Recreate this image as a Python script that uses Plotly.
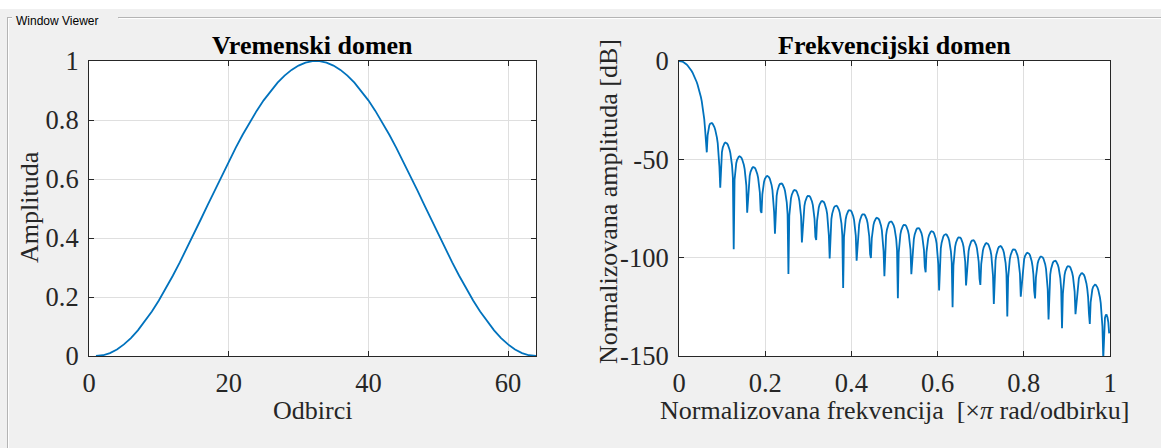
import numpy as np
import plotly.graph_objects as go

# Window samples (first half; the window is symmetric, 64 samples in total)
half_window = [
    0.0000000, 0.0024846, 0.0099138, 0.0222136, 0.0392619, 0.0608892, 0.0868806, 0.1169778,
    0.1508816, 0.1882551, 0.2287269, 0.2718947, 0.3173295, 0.3645798, 0.4131759, 0.4626350,
    0.5124653, 0.5621719, 0.6112605, 0.6592433, 0.7056436, 0.7500000, 0.7918718, 0.8308429,
    0.8665259, 0.8985663, 0.9266454, 0.9504844, 0.9698463, 0.9845386, 0.9944154, 0.9993785,
]
window = half_window + half_window[::-1]
samples = list(range(1, len(window) + 1))

# Axis ticks
time_xticks = [0, 20, 40, 60]
time_yticks = [0, 0.2, 0.4, 0.6, 0.8, 1]
time_yticklabels = ["0", "0.2", "0.4", "0.6", "0.8", "1"]
freq_xticks = [0, 0.2, 0.4, 0.6, 0.8, 1]
freq_xticklabels = ["0", "0.2", "0.4", "0.6", "0.8", "1"]
freq_yticks = [-150, -100, -50, 0]
freq_yticklabels = ["-150", "-100", "-50", "0"]

# Magnitude response of the window, 512 points over [0, pi)
n_points = 512
spec = np.fft.fft(np.array(window), 2 * n_points)[:n_points]
mag = np.abs(spec)
mag_db = 20 * np.log10(np.maximum(mag / mag.max(), 1e-12))
freq = np.arange(n_points) / n_points

W, H = 1161, 448


def px(x):
    return x / W


def py(y):
    return 1 - y / H


BLUE = "#0072BD"
fig = go.Figure()
fig.add_trace(go.Scatter(x=samples, y=window, mode="lines",
                         line=dict(color=BLUE, width=1.8), xaxis="x", yaxis="y"))
fig.add_trace(go.Scatter(x=freq, y=mag_db, mode="lines",
                         line=dict(color=BLUE, width=1.8), xaxis="x2", yaxis="y2"))

SERIF = "Liberation Serif"
tickfont = dict(family=SERIF, size=26.5, color="#262626")
ax_common = dict(showline=True, linecolor="#262626", linewidth=1, mirror="ticks", ticks="inside",
                 ticklen=5, tickcolor="#262626", showgrid=True, gridcolor="#dfdfdf", gridwidth=1,
                 zeroline=False, tickfont=tickfont, fixedrange=True, automargin=False)

fig.update_layout(
    width=W, height=H, margin=dict(l=0, r=0, t=0, b=0, pad=0, autoexpand=False),
    paper_bgcolor="#f0f0f0", plot_bgcolor="white", showlegend=False,
    xaxis=dict(domain=[px(89), px(536)], range=[0, 64], tickvals=time_xticks, anchor="y",
               ticklabelstandoff=3, **ax_common),
    yaxis=dict(domain=[py(356), py(61)], range=[0, 1], tickvals=time_yticks,
               ticktext=time_yticklabels, anchor="x", ticklabelstandoff=4, **ax_common),
    xaxis2=dict(domain=[px(679), px(1110)], range=[0, 1], tickvals=freq_xticks,
                ticktext=freq_xticklabels, anchor="y2", ticklabelstandoff=3, **ax_common),
    yaxis2=dict(domain=[py(356), py(61)], range=[-150, 0], tickvals=freq_yticks,
                ticktext=freq_yticklabels, anchor="x2", ticklabelstandoff=4, **ax_common),
)

# Panel frame: white strip on top, etched group-box border
fig.add_shape(type="rect", xref="paper", yref="paper", x0=0, x1=1, y0=py(9), y1=1,
              fillcolor="white", line_width=0, layer="below")
frame = "#b4b4b4"
for x0, x1 in [(7, 12), (118, W)]:
    fig.add_shape(type="line", xref="paper", yref="paper", x0=px(x0), x1=px(x1),
                  y0=py(17.5), y1=py(17.5), line=dict(color=frame, width=1))
    fig.add_shape(type="line", xref="paper", yref="paper", x0=px(x0 + 1), x1=px(x1),
                  y0=py(18.5), y1=py(18.5), line=dict(color="white", width=1))
fig.add_shape(type="line", xref="paper", yref="paper", x0=px(7.5), x1=px(7.5),
              y0=py(17.5), y1=0, line=dict(color=frame, width=1))
fig.add_shape(type="line", xref="paper", yref="paper", x0=px(8.5), x1=px(8.5),
              y0=py(18.5), y1=0, line=dict(color="white", width=1))
fig.add_annotation(x=px(14), y=py(20.5), xref="paper", yref="paper", text="Window Viewer",
                   showarrow=False, xanchor="left", yanchor="middle",
                   font=dict(family="Liberation Sans", size=12, color="black"))

# Titles and axis labels
label_font = dict(family=SERIF, size=26, color="#262626")
title_font = dict(family=SERIF, size=26, color="black")
texts = [
    ("<b>Vremenski domen</b>", 312.5, 46, 0, title_font),
    ("<b>Frekvencijski domen</b>", 894.5, 46, 0, title_font),
    ("Odbirci", 312.5, 410, 0, label_font),
    ("Normalizovana frekvencija  [×<i>π</i> rad/odbirku]", 894.5, 410, 0, label_font),
    ("Amplituda", 29, 207, -90, label_font),
    ("Normalizovana amplituda [dB]", 608, 202, -90, label_font),
]
for text, x, y, angle, font in texts:
    fig.add_annotation(x=px(x), y=py(y), xref="paper", yref="paper", text=text, showarrow=False,
                       xanchor="center", yanchor="middle", textangle=angle, font=font)

fig.write_html("out.html")
